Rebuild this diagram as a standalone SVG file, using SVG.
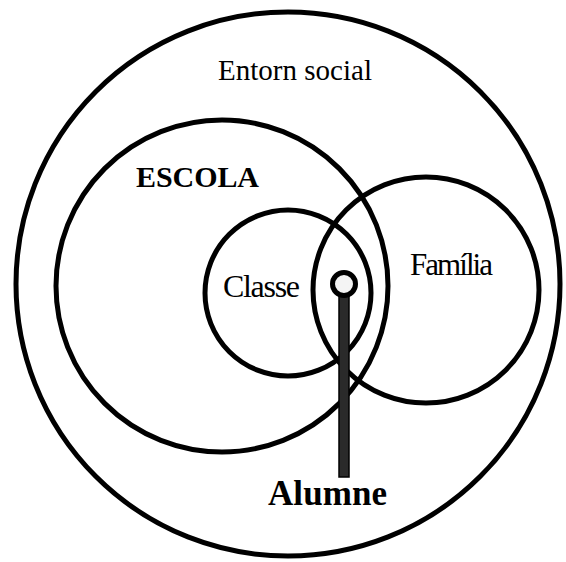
<svg xmlns="http://www.w3.org/2000/svg" width="566" height="562" viewBox="0 0 566 562">
<style>
.c{fill:none;stroke:#000;stroke-width:5}
.t{font-family:'Liberation Serif','DejaVu Serif',serif;fill:#000}
.b{font-weight:bold}
</style>
<rect width="566" height="562" fill="#fff"/>
<g id="entorn"><circle class="c" cx="288" cy="284" r="272"/><text class="t" x="218" y="80" font-size="29" textLength="154">Entorn social</text></g>
<g id="escola"><circle class="c" cx="222" cy="286" r="166"/><text class="t b" x="136" y="187" font-size="30" textLength="123">ESCOLA</text></g>
<g id="familia"><circle class="c" cx="426" cy="290" r="113"/><text class="t" x="410" y="275" font-size="31" textLength="83">Família</text></g>
<g id="classe"><circle class="c" cx="288" cy="293" r="83"/><text class="t" x="223" y="297" font-size="32" textLength="77">Classe</text></g>
<g id="connectors"><rect x="339" y="296" width="10" height="181" fill="#2a2a2a" stroke="#000" stroke-width="1.5"/></g>
<g id="alumne"><circle cx="344" cy="284" r="11.5" fill="#f4f4f4" stroke="#000" stroke-width="5"/><text class="t b" x="268" y="505" font-size="35" textLength="119">Alumne</text></g>
</svg>
